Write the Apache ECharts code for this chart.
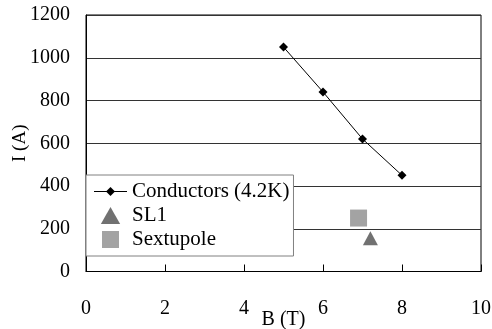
<!DOCTYPE html>
<html><head><meta charset="utf-8">
<script src="https://cdn.jsdelivr.net/npm/echarts@6/dist/echarts.min.js"></script>
<style>html,body{margin:0;padding:0;background:#fff}#c{width:492px;height:329px}</style>
</head><body><div id="c"></div>
<script>
const conductorsB = [5, 6, 7, 8];
const conductorsI = [1050, 840, 620, 450];
const sl1B = [7.2];
const sl1I = [155];
const sextB = [6.9];
const sextI = [250];
const xTicks = [0, 2, 4, 6, 8, 10];
const yTicks = [0, 200, 400, 600, 800, 1000, 1200];

const font = 'Liberation Serif';
const chart = echarts.init(document.getElementById('c'));
chart.setOption({
  animation: false,
  backgroundColor: '#fff',
  grid: { left: 86, right: 11, top: 15, bottom: 57.5, outerBoundsMode: 'none', containLabel: false,
          show: true, borderColor: '#000', borderWidth: 1, backgroundColor: 'transparent' },
  xAxis: {
    type: 'value', min: xTicks[0], max: xTicks[xTicks.length-1], interval: 2,
    name: 'B (T)', nameLocation: 'middle', nameGap: 38, nameMoveOverlap: false,
    nameTextStyle: { fontFamily: font, fontSize: 20, color: '#000' },
    axisLine: { lineStyle: { color: '#000', width: 1 } },
    axisTick: { show: true, inside: true, length: 7, lineStyle: { color: '#000' } },
    axisLabel: { fontFamily: font, fontSize: 20, color: '#000', margin: 27 },
    splitLine: { show: false }
  },
  yAxis: {
    type: 'value', min: yTicks[0], max: yTicks[yTicks.length-1], interval: 200,
    name: 'I (A)', nameLocation: 'middle', nameGap: 56, nameMoveOverlap: false,
    nameTextStyle: { fontFamily: font, fontSize: 19, color: '#000' },
    axisLine: { show: true, lineStyle: { color: '#000', width: 1 } },
    axisTick: { show: false },
    axisLabel: { fontFamily: font, fontSize: 20, color: '#000', margin: 16, formatter: v => String(v) },
    splitLine: { show: true, lineStyle: { color: '#333', width: 1 } }
  },
  legend: {
    orient: 'vertical', left: 86, top: 175,
    backgroundColor: '#fff', borderColor: '#808080', borderWidth: 1,
    padding: [6, 4, 6, 8], itemWidth: 33, itemHeight: 17, itemGap: 3,
    symbolKeepAspect: true,
    textStyle: { fontFamily: font, fontSize: 21, color: '#000' },
    data: [
      { name: 'Conductors (4.2K)', icon: 'path://M0,8 H12.5 L16.5,4 L20.5,8 H33 V9 H20.5 L16.5,13 L12.5,9 H0 Z' },
      { name: 'SL1', icon: 'path://M0,15 L8.5,0 L17,15 Z' },
      { name: 'Sextupole', icon: 'path://M0,0 H17 V17 H0 Z' }
    ]
  },
  series: [
    { name: 'Conductors (4.2K)', type: 'line', data: conductorsB.map((b,i)=>[b, conductorsI[i]]),
      symbol: 'diamond', symbolSize: 9, lineStyle: { color: '#000', width: 1 }, itemStyle: { color: '#000' } },
    { name: 'SL1', type: 'scatter', data: sl1B.map((b,i)=>[b, sl1I[i]]),
      symbol: 'triangle', symbolSize: [15, 14], itemStyle: { color: '#4d4d4d' } },
    { name: 'Sextupole', type: 'scatter', data: sextB.map((b,i)=>[b, sextI[i]]),
      symbol: 'rect', symbolSize: 17, itemStyle: { color: '#8c8c8c' } }
  ]
});
</script></body></html>
